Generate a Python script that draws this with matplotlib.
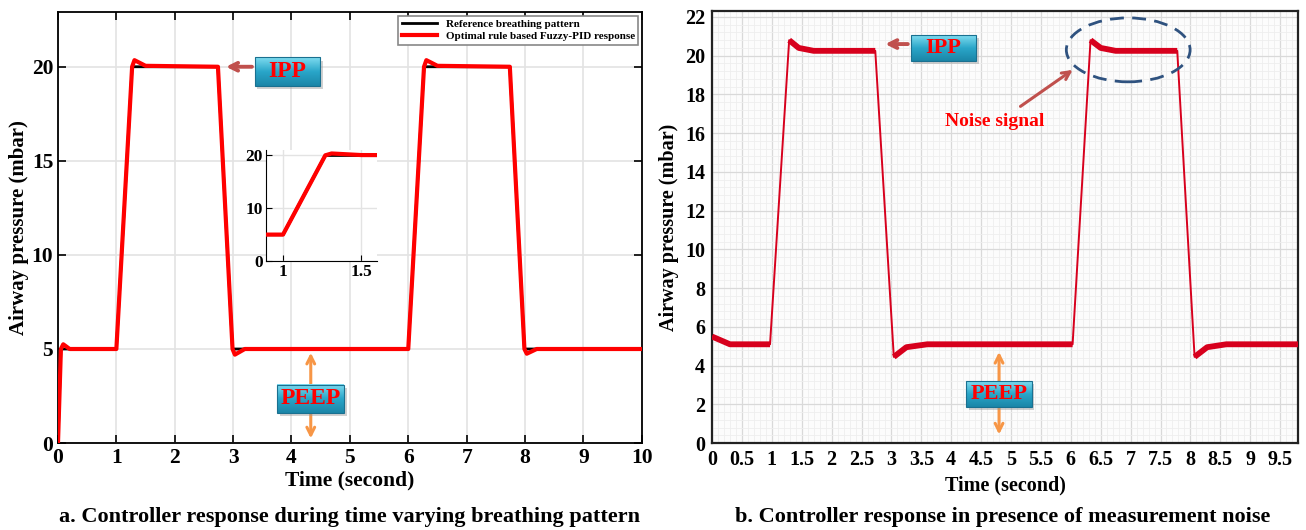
import numpy as np
import matplotlib.pyplot as plt
from matplotlib.patches import Ellipse, Rectangle
from matplotlib.colors import LinearSegmentedColormap

plt.rcParams['font.family'] = ['Liberation Serif', 'DejaVu Serif']
plt.rcParams['font.weight'] = 'bold'
plt.rcParams['axes.labelweight'] = 'bold'

# ---- panel a: time varying breathing pattern ----
t_ref = [0, 0.05, 1.0, 1.27, 2.74, 2.99, 6.0, 6.27, 7.74, 7.99, 10]
p_ref = [0, 5, 5, 20, 20, 5, 5, 20, 20, 5, 5]

t_fpid = [0, 0.05, 0.09, 0.2, 1.0, 1.27, 1.31, 1.5, 2.74, 2.99, 3.03, 3.2,
          6.0, 6.27, 6.31, 6.5, 7.74, 7.99, 8.03, 8.2, 10]
p_fpid = [0, 5.0, 5.25, 5.0, 5.0, 20.0, 20.35, 20.05, 20.0, 5.0, 4.7, 5.0,
          5.0, 20.0, 20.35, 20.05, 20.0, 5.0, 4.75, 5.0, 5.0]

xticks_a = list(range(0, 11))
yticks_a = [0, 5, 10, 15, 20]

# ---- panel b: response with measurement noise ----
t_noise = [0, 0.3, 0.97, 1.29, 1.45, 1.7, 2.73, 3.04, 3.25, 3.6,
           6.03, 6.33, 6.5, 6.75, 7.78, 8.07, 8.28, 8.6, 9.8]
p_noise = [5.5, 5.1, 5.1, 20.8, 20.4, 20.25, 20.25, 4.45, 4.95, 5.1,
           5.1, 20.8, 20.4, 20.25, 20.25, 4.45, 4.95, 5.1, 5.1]

xticks_b = [i * 0.5 for i in range(20)]
xlabels_b = ['0', '0.5', '1', '1.5', '2', '2.5', '3', '3.5', '4', '4.5', '5',
             '5.5', '6', '6.5', '7', '7.5', '8', '8.5', '9', '9.5']
yticks_b = list(range(0, 23, 2))

box_cmap = LinearSegmentedColormap.from_list('box', ['#7fdcf0', '#2aa6c9', '#1b86a8'])


def label_box(ax, xc, yc, w, h, text, size):
    # gradient box with drop shadow, like the office-style call-outs
    ax.add_patch(Rectangle((xc - w / 2 + w * 0.04, yc - h / 2 - h * 0.12), w, h,
                           facecolor='#999999', alpha=0.45, edgecolor='none', zorder=4))
    grad = np.linspace(0, 1, 60).reshape(-1, 1)
    ax.imshow(grad, extent=(xc - w / 2, xc + w / 2, yc - h / 2, yc + h / 2),
              cmap=box_cmap, aspect='auto', origin='upper', zorder=5)
    ax.add_patch(Rectangle((xc - w / 2, yc - h / 2), w, h, fill=False,
                           edgecolor='#1a7090', lw=0.8, zorder=6))
    ax.text(xc, yc, text, color='#ff0000', fontsize=size, fontweight='bold',
            ha='center', va='center', zorder=7)


fig = plt.figure(figsize=(13.06, 5.30), dpi=100)

# ================= panel a =================
ax1 = fig.add_axes([0.0444, 0.164, 0.447, 0.813])
ax1.plot(t_ref, p_ref, color='black', lw=2.0, label='Reference breathing pattern', zorder=2)
ax1.plot(t_fpid, p_fpid, color='#ff0000', lw=3.0,
         label='Optimal rule based Fuzzy-PID response', zorder=3)
ax1.set_xticks(xticks_a)
ax1.set_yticks(yticks_a)
ax1.tick_params(direction='in', top=True, right=True, labelsize=15.5, length=6, width=1.2)
ax1.grid(True, color='#e3e3e3', lw=1.2)
for s in ax1.spines.values():
    s.set_linewidth(1.3)
ax1.set_xlabel('Time (second)', fontsize=15.5, labelpad=2)
ax1.set_ylabel('Airway pressure (mbar)', fontsize=15, labelpad=2)

label_box(ax1, 3.93, 19.75, 1.12, 1.5, 'IPP', 17)
ax1.annotate('', xy=(2.83, 20.0), xytext=(3.37, 20.0),
             arrowprops=dict(arrowstyle='->', color='#c0504d', lw=2.8,
                             mutation_scale=14), zorder=4)
ax1.annotate('', xy=(4.33, 4.95), xytext=(4.33, 0.1),
             arrowprops=dict(arrowstyle='<->', color='#f79646', lw=2.2,
                             mutation_scale=14), zorder=4)
label_box(ax1, 4.33, 2.35, 1.14, 1.5, 'PEEP', 17)
ax1.set_xlim(0, 10)
ax1.set_ylim(0, 22.9)

leg = ax1.legend(loc='upper right', fontsize=8, handlelength=3.2, borderaxespad=0.3,
                 fancybox=False, edgecolor='#888888', framealpha=1,
                 borderpad=0.3, labelspacing=0.25)
leg.get_frame().set_linewidth(1.2)

# inset zoom of the first rise
axi = fig.add_axes([0.2035, 0.5075, 0.0852, 0.2094])
axi.plot(t_ref, p_ref, color='black', lw=2.2, zorder=2)
axi.plot(t_fpid, p_fpid, color='#ff0000', lw=3.0, zorder=3)
axi.set_xlim(0.89, 1.6)
axi.set_ylim(0, 21)
axi.set_xticks([1, 1.5])
axi.set_xticklabels(['1', '1.5'])
axi.set_yticks([0, 10, 20])
axi.grid(True, color='#e3e3e3', lw=1)
axi.spines['top'].set_visible(False)
axi.spines['right'].set_visible(False)
axi.tick_params(direction='in', labelsize=12.5, length=4, pad=2)

# ================= panel b =================
ax2 = fig.add_axes([0.5452, 0.164, 0.4487, 0.815])
ax2.set_facecolor('#fcfcfc')
t_arr = np.array(t_noise, dtype=float)
p_arr = np.array(p_noise, dtype=float)
ax2.plot(t_arr, p_arr, color='#d7001d', lw=1.4, zorder=3)
# the noisy plateaus read as a thick band; ramps stay thin
steep = np.abs(np.diff(p_arr) / np.diff(t_arr)) > 20
cut = np.where(steep)[0] + 1
ax2.plot(np.insert(t_arr, cut, np.nan), np.insert(p_arr, cut, np.nan),
         color='#d7001d', lw=4.2, solid_capstyle='butt', zorder=3)

ax2.set_xlim(0, 9.8)
ax2.set_ylim(0, 22.3)
ax2.set_xticks(xticks_b)
ax2.set_xticklabels(xlabels_b)
ax2.set_yticks(yticks_b)
ax2.set_xticks(np.arange(0, 9.8, 0.1), minor=True)
ax2.set_yticks(np.arange(0, 22.3, 0.4), minor=True)
ax2.grid(True, which='major', color='#d9d9d9', lw=0.9)
ax2.grid(True, which='minor', color='#eeeeee', lw=0.6)
ax2.set_axisbelow(True)
ax2.tick_params(which='both', length=0, labelsize=14.5, pad=5)
for s in ax2.spines.values():
    s.set_linewidth(1.6)
    s.set_color('#222222')
ax2.set_xlabel('Time (second)', fontsize=14.5, labelpad=4)
ax2.set_ylabel('Airway pressure (mbar)', fontsize=14.5, labelpad=4)

label_box(ax2, 3.87, 20.4, 1.10, 1.34, 'IPP', 16)
ax2.annotate('', xy=(2.85, 20.6), xytext=(3.32, 20.6),
             arrowprops=dict(arrowstyle='->', color='#c0504d', lw=2.8,
                             mutation_scale=14), zorder=4)
ax2.text(4.73, 16.6, 'Noise signal', color='#ff0000', fontsize=14,
         ha='center', va='center', zorder=6)
ax2.annotate('', xy=(6.07, 19.35), xytext=(5.12, 17.3),
             arrowprops=dict(arrowstyle='->', color='#c0504d', lw=2.2,
                             mutation_scale=14), zorder=4)
ax2.add_patch(Ellipse((6.96, 20.3), 2.07, 3.3, fill=False, edgecolor='#2f527f',
                      lw=2.0, ls=(0, (5, 3)), zorder=5))
ax2.annotate('', xy=(4.8, 4.85), xytext=(4.8, 0.3),
             arrowprops=dict(arrowstyle='<->', color='#f79646', lw=2.2,
                             mutation_scale=14), zorder=4)
label_box(ax2, 4.8, 2.55, 1.09, 1.34, 'PEEP', 16)
ax2.set_xlim(0, 9.8)
ax2.set_ylim(0, 22.3)

fig.text(0.2676, 0.024, 'a. Controller response during time varying breathing pattern',
         ha='center', va='center', fontsize=16, fontweight='bold')
fig.text(0.768, 0.024, 'b. Controller response in presence of measurement noise',
         ha='center', va='center', fontsize=16, fontweight='bold')

fig.savefig('out.png', dpi=100)
